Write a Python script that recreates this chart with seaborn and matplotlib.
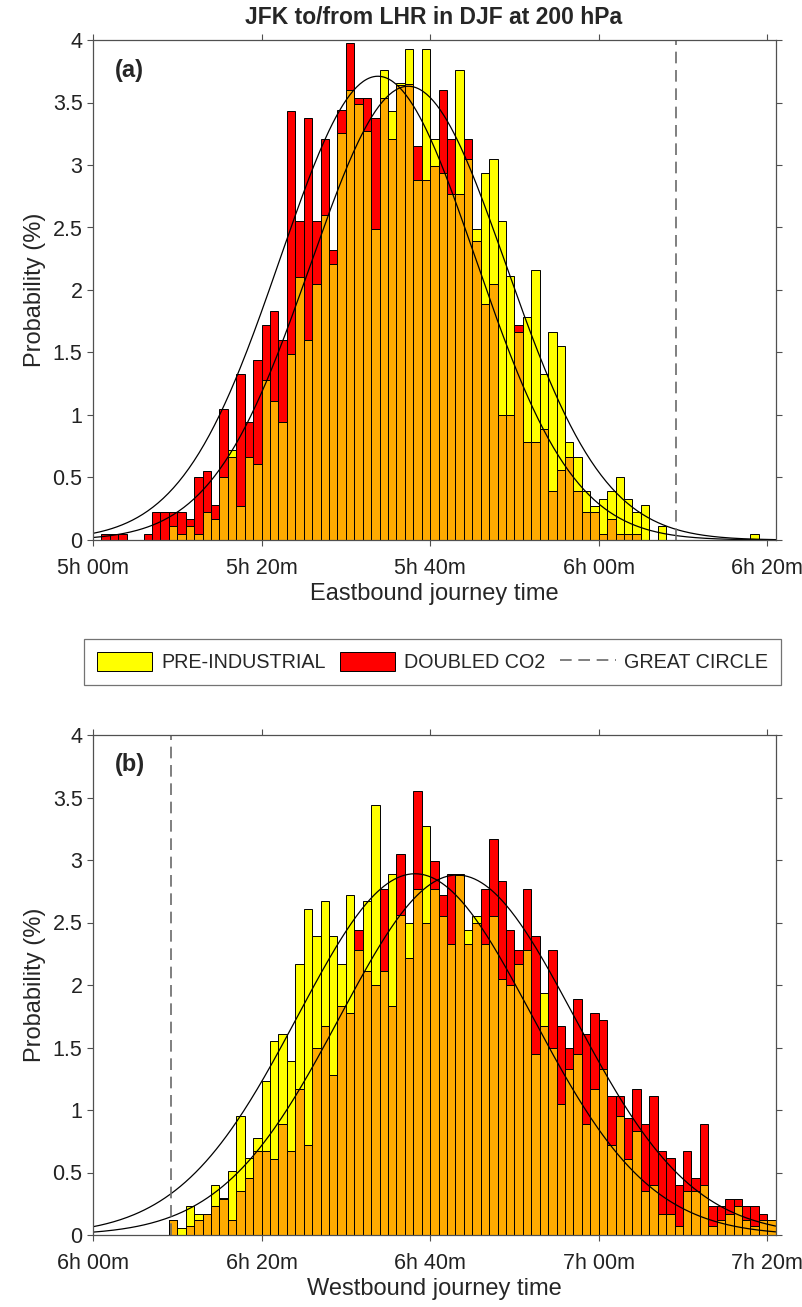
import numpy as np
import pandas as pd
import seaborn as sns
import matplotlib.pyplot as plt
from matplotlib.patches import Patch
from matplotlib.lines import Line2D

# probability (%) in 1-minute bins, first bin starts at the given minute
east_start = 300
east_pi = [0, 0, 0, 0, 0, 0, 0, 0, 0, 0.11,
           0.05, 0.11, 0.05, 0.22, 0.17, 0.50, 0.72, 0.27, 0.66, 0.61,
           1.28, 1.11, 0.94, 1.49, 2.10, 1.60, 2.05, 2.60, 2.21, 3.26,
           3.60, 3.49, 3.27, 2.49, 3.76, 3.43, 3.66, 3.93, 2.88, 3.93,
           3.21, 2.94, 2.77, 3.76, 3.05, 2.49, 2.94, 3.05, 2.55, 2.11,
           1.66, 1.78, 2.16, 1.33, 1.66, 1.55, 0.78, 0.66, 0.39, 0.27,
           0.33, 0.39, 0.50, 0.33, 0.22, 0.28, 0, 0.11, 0, 0,
           0, 0, 0, 0, 0, 0, 0, 0, 0.05, 0, 0]
east_co2 = [0, 0.05, 0.05, 0.05, 0, 0, 0.05, 0.22, 0.22, 0.22,
            0.22, 0.17, 0.50, 0.55, 0.28, 1.05, 0.66, 1.33, 0.94, 1.44,
            1.72, 1.83, 1.60, 3.43, 2.55, 3.38, 2.55, 3.21, 2.32, 3.44,
            3.98, 3.54, 3.54, 3.38, 3.54, 3.21, 3.64, 3.65, 3.15, 2.88,
            2.99, 3.60, 3.21, 2.77, 3.21, 2.39, 1.89, 2.05, 1.00, 1.00,
            1.72, 0.78, 0.78, 0.89, 0.39, 0.56, 0.66, 0.39, 0.22, 0.22,
            0.05, 0.17, 0.05, 0.05, 0.05, 0, 0, 0, 0, 0,
            0, 0, 0, 0, 0, 0, 0, 0, 0, 0, 0]

west_start = 360
west_pi = [0, 0, 0, 0, 0, 0, 0, 0, 0, 0.12,
           0.06, 0.23, 0.17, 0.17, 0.40, 0.30, 0.51, 0.95, 0.62, 0.78,
           1.23, 1.55, 1.61, 1.39, 2.17, 2.61, 2.39, 2.67, 2.39, 2.17,
           2.72, 2.28, 2.67, 3.44, 2.11, 2.89, 2.56, 2.50, 2.77, 3.27,
           2.77, 2.55, 2.33, 2.89, 2.44, 2.55, 2.33, 2.55, 2.05, 2.00,
           2.17, 2.28, 1.45, 1.94, 1.50, 1.05, 1.33, 1.45, 0.89, 1.17,
           1.33, 0.72, 0.95, 0.61, 0.83, 0.35, 0.40, 0.17, 0.17, 0.07,
           0.35, 0.35, 0.40, 0.07, 0.12, 0.17, 0.23, 0.12, 0.07, 0.12, 0.12]
west_co2 = [0, 0, 0, 0, 0, 0, 0, 0, 0, 0.12,
            0, 0.07, 0.12, 0.17, 0.23, 0.29, 0.12, 0.35, 0.46, 0.67,
            0.67, 0.61, 0.89, 0.67, 1.17, 0.72, 1.50, 1.67, 1.28, 1.83,
            1.78, 2.44, 2.11, 2.00, 2.77, 1.83, 3.05, 2.22, 3.55, 2.50,
            2.99, 2.72, 2.89, 2.88, 2.33, 2.50, 2.77, 3.17, 2.83, 2.44,
            2.28, 2.77, 2.39, 1.67, 2.28, 1.67, 1.50, 1.89, 1.61, 1.78,
            1.72, 1.11, 1.11, 0.94, 1.17, 0.89, 1.11, 0.67, 0.62, 0.40,
            0.67, 0.46, 0.89, 0.23, 0.23, 0.29, 0.29, 0.23, 0.23, 0.17, 0.12]

# normal fits: mean (min), sigma (min), peak (%)
east_fit_pi = (337.4, 11.6, 3.63)
east_fit_co2 = (333.8, 11.6, 3.71)
west_fit_pi = (398.2, 13.9, 2.89)
west_fit_co2 = (403.2, 13.9, 2.88)

great_circle = 369.2

east_ticks = [300, 320, 340, 360, 380]
east_labels = ['5h 00m', '5h 20m', '5h 40m', '6h 00m', '6h 20m']
west_ticks = [360, 380, 400, 420, 440]
west_labels = ['6h 00m', '6h 20m', '6h 40m', '7h 00m', '7h 20m']

sns.set_theme(style='ticks')
plt.rcParams['font.family'] = ['Liberation Sans', 'DejaVu Sans']

YELLOW = '#FFFF00'
RED = '#FF0000'
ORANGE = '#FFAB00'
GREY = '#505050'
DASH = (0, (7, 4))

fig = plt.figure(figsize=(8.03, 13.07), dpi=100)
W, H = 803, 1307
ax1 = fig.add_axes([93 / W, 1 - 540 / H, 682.7 / W, 500 / H])
ax2 = fig.add_axes([93 / W, 1 - 1235 / H, 682.7 / W, 500 / H])


def draw_panel(ax, start, pi, co2, fit_pi, fit_co2, ticks, labels, xlabel, tag):
    pi = np.array(pi)
    co2 = np.array(co2)
    n = len(pi)
    centers = start + np.arange(n) + 0.5
    df = pd.DataFrame({'t': centers, 'pi': pi, 'co2': co2,
                       'both': np.minimum(pi, co2)})
    kw = dict(bins=n, binrange=(start, start + n), edgecolor='black',
              linewidth=0.7, alpha=1, ax=ax)
    # yellow, then red, then the overlap in orange
    sns.histplot(data=df, x='t', weights='pi', color=YELLOW, **kw)
    sns.histplot(data=df, x='t', weights='co2', color=RED, **kw)
    sns.histplot(data=df, x='t', weights='both', color=ORANGE, **kw)

    xs = np.linspace(start, start + n, 400)
    for mu, sd, amp in (fit_pi, fit_co2):
        sns.lineplot(x=xs, y=amp * np.exp(-0.5 * ((xs - mu) / sd) ** 2),
                     color='black', linewidth=0.9, ax=ax)
    ax.axvline(great_circle, color='#6a6a6a', linewidth=1.2, linestyle=DASH)

    ax.set_xlim(start, start + n)
    ax.set_ylim(0, 4)
    ax.set_xticks(ticks)
    ax.set_xticklabels(labels)
    ax.set_yticks(np.arange(0, 4.01, 0.5))
    ax.set_yticklabels(['0', '0.5', '1', '1.5', '2', '2.5', '3', '3.5', '4'])
    ax.set_xlabel(xlabel, fontsize=17, labelpad=3)
    ax.set_ylabel('Probability (%)', fontsize=17, labelpad=5)
    ax.tick_params(direction='out', length=4, width=0.8, color=GREY,
                   labelsize=15.5, top=True, right=True, labelcolor='#222222')
    ax.tick_params(axis='x', pad=9)
    for s in ax.spines.values():
        s.set_visible(True)
        s.set_color(GREY)
        s.set_linewidth(0.9)
    ax.text(0.032, 0.94, tag, transform=ax.transAxes, fontsize=17,
            fontweight='bold', va='center', ha='left')


draw_panel(ax1, east_start, east_pi, east_co2, east_fit_pi, east_fit_co2,
           east_ticks, east_labels, 'Eastbound journey time', '(a)')
draw_panel(ax2, west_start, west_pi, west_co2, west_fit_pi, west_fit_co2,
           west_ticks, west_labels, 'Westbound journey time', '(b)')

fig.text(434 / W, 1 - 18 / H, 'JFK to/from LHR in DJF at 200 hPa',
         ha='center', va='center', fontsize=16.5, fontweight='bold')

handles = [Patch(facecolor=YELLOW, edgecolor='black', linewidth=0.7),
           Patch(facecolor=RED, edgecolor='black', linewidth=0.7),
           Line2D([], [], color='#6a6a6a', linewidth=1.2, linestyle=DASH)]
leg = fig.legend(handles, ['PRE-INDUSTRIAL', 'DOUBLED CO2', 'GREAT CIRCLE'],
                 loc='upper left', bbox_to_anchor=(84 / W, 1 - 639 / H),
                 ncol=3, fontsize=14.2, frameon=True, fancybox=False,
                 handlelength=2.8, handleheight=1.15, handletextpad=0.45,
                 columnspacing=0.75, borderpad=0.65, borderaxespad=0)
leg.get_frame().set_edgecolor(GREY)
leg.get_frame().set_linewidth(0.9)

fig.savefig('out.png', dpi=100)
